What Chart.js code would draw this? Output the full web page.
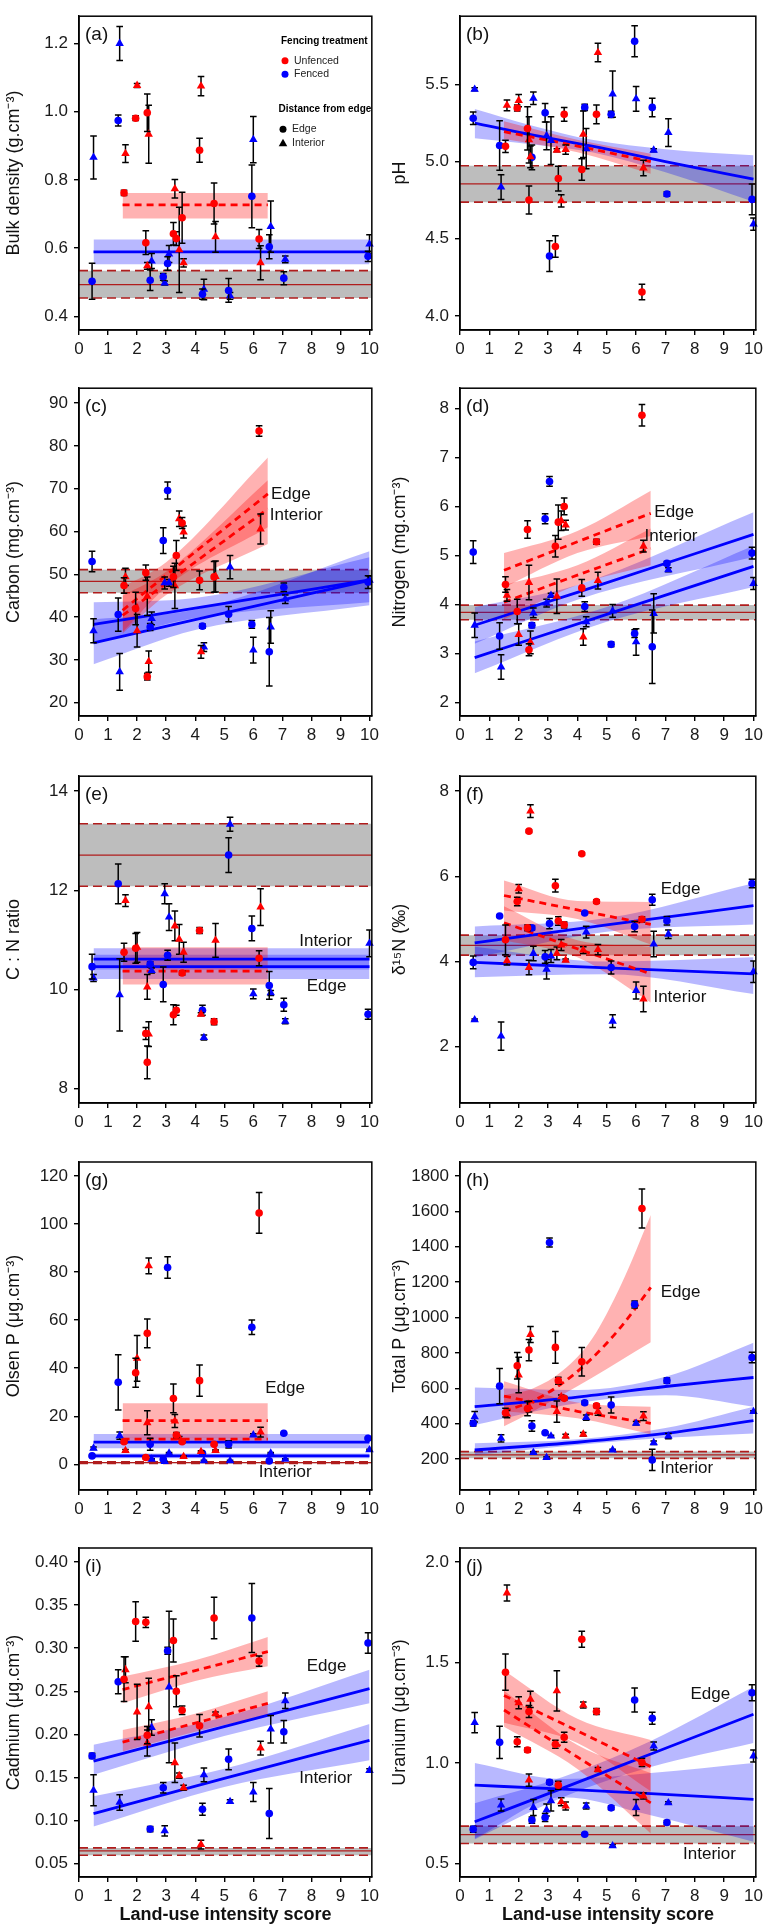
<!DOCTYPE html>
<html>
<head>
<meta charset="utf-8">
<script src="https://cdn.jsdelivr.net/npm/chart.js@4.4.0/dist/chart.umd.min.js"></script>
<style>
  body { margin: 0; background: #fff; width: 767px; height: 1926px; position: relative; overflow: hidden; }
  canvas { position: absolute; }
</style>
</head>
<body>
<script>
// x positions of the sites (land-use intensity score)
const xFenEdge = [0.45, 1.35, 2.45, 2.9, 3.05, 4.25, 5.15, 5.95, 6.55, 7.05, 9.95];
const xFenInt  = [0.5, 1.4, 2.5, 2.95, 3.1, 4.3, 5.2, 6.0, 6.6, 7.1, 10.0];
const xUnfEdge = [1.55, 1.95, 2.3, 2.35, 3.25, 3.35, 3.55, 4.15, 4.65, 6.2];
const xUnfInt  = [1.6, 2.0, 2.35, 2.4, 3.3, 3.45, 3.6, 4.2, 4.7, 6.25];
const xTicks = [0, 1, 2, 3, 4, 5, 6, 7, 8, 9, 10];
const xMax = 10.08;

// values as [mean, error]
// (a) bulk density
const bulkUnfEdge = [[0.762,0.008],[0.981,0.007],[0.616,0.035],[0.997,0.055],[0.642,0.033],[0.628,0.02],[0.689,0.075],[0.887,0.035],[0.731,0.06],[0.627,0.028]];
const bulkUnfInt  = [[0.877,0.026],[1.077,0.006],[0.548,0.01],[0.934,0.085],[0.774,0.027],[0.595,0.125],[0.557,0.012],[1.075,0.028],[0.633,0.045],[0.557,0.05]];
const bulkFenEdge = [[0.503,0.053],[0.974,0.016],[0.506,0.03],[0.516,0.01],[0.555,0.02],[0.465,0.015],[0.476,0.035],[0.752,0.092],[0.604,0.035],[0.512,0.019],[0.576,0.015]];
const bulkFenInt  = [[0.866,0.063],[1.2,0.05],[0.562,0.022],[0.498,0.006],[0.583,0.025],[0.479,0.03],[0.46,0.01],[0.918,0.068],[0.663,0.075],[0.567,0.01],[0.612,0.027]];
const bulkRef = [0.454, 0.493, 0.534];
const bulkUnfFit = [[1.5,0.727,0.687,0.762],[6.5,0.727,0.687,0.762]];
const bulkFenFit = [[0.5,0.589,0.553,0.625],[10,0.589,0.553,0.625]];
const bulkTicks = [0.4, 0.6, 0.8, 1.0, 1.2];

// (b) pH
const phUnfEdge = [[5.098,0.04],[5.346,0.02],[5.214,0.14],[4.751,0.09],[4.45,0.07],[4.89,0.08],[5.305,0.045],[4.948,0.07],[5.305,0.06],[4.156,0.05]];
const phUnfInt  = [[5.363,0.035],[5.394,0.04],[5.14,0.15],[5.03,0.07],[5.073,0.01],[4.745,0.04],[5.077,0.03],[5.176,0.15],[5.705,0.06],[4.958,0.05]];
const phFenEdge = [[5.28,0.04],[5.104,0.16],[5.027,0.08],[5.315,0.06],[4.388,0.1],[5.35,0.02],[5.305,0.02],[5.778,0.1],[5.35,0.06],[4.79,0.015],[4.755,0.1]];
const phFenInt  = [[5.467,0.01],[4.834,0.08],[5.409,0.04],[5.166,0.09],[5.135,0.155],[5.083,0.13],[5.436,0.15],[5.405,0.08],[5.073,0.01],[5.187,0.09],[4.595,0.04]];
const phRef = [4.737, 4.855, 4.973];
const phUnfFit = [[1.5,5.193,5.145,5.26],[4,5.10,5.06,5.14],[6.5,5.0,4.92,5.05]];
const phFenFit = [[0.5,5.249,5.15,5.34],[2.5,5.17,5.11,5.23],[4.5,5.10,5.06,5.14],[7,5.0,4.93,5.08],[10,4.886,4.74,5.04]];
const phTicks = [4.0, 4.5, 5.0, 5.5];

// (c) carbon
const carbUnfEdge = [[47.4,1.8],[42.0,3.8],[50.4,1.8],[26.1,0.8],[49.4,2.5],[54.4,3.5],[62.0,1.3],[48.6,2.2],[49.4,3.6],[83.5,1.2]];
const carbUnfInt  = [[49.4,2],[36.8,3.8],[44.9,4.5],[29.6,2.5],[47.3,5.3],[63.0,1.8],[59.9,1.4],[31.9,1.5],[49.5,3.6],[60.6,3.5]];
const carbFenEdge = [[53.0,2.4],[40.6,3.9],[37.7,0.8],[57.9,3],[69.6,2],[37.9,0.5],[40.7,1.8],[38.3,0.9],[31.9,8],[47.0,1],[48.2,1.5]];
const carbFenInt  = [[36.8,2.8],[27.2,4.3],[39.7,1.5],[48.0,1.4],[48.0,0.8],[33.0,1],[51.7,2.7],[32.3,3],[37.7,3.8],[44.2,1],[48.6,1]];
const carbRef = [45.7, 48.35, 51.1];
const carbUnfEdgeFit = [[1.5,41.6,36.5,47],[3,49.8,47,52.8],[6.5,68.8,61,77.3]];
const carbUnfIntFit  = [[1.5,40.4,36.2,45],[3,47.9,45.2,50.6],[6.5,65.3,57.1,72]];
const carbFenEdgeFit = [[0.5,38.3,33.8,43.5],[4,42.1,39.8,44.5],[10,48.7,43.5,54.0]];
const carbFenIntFit  = [[0.5,34.0,29.0,39.5],[4,39.4,37.0,41.8],[10,48.6,42.8,55.4]];
const carbTicks = [20, 30, 40, 50, 60, 70, 80, 90];

// (d) nitrogen
const nitUnfEdge = [[4.41,0.16],[3.86,0.25],[5.53,0.18],[3.08,0.12],[5.19,0.22],[5.68,0.35],[6.0,0.17],[4.34,0.17],[5.28,0.05],[7.86,0.22]];
const nitUnfInt  = [[4.19,0.12],[3.39,0.22],[4.45,0.35],[3.23,0.23],[4.17,0.35],[5.71,0.2],[5.62,0.1],[3.34,0.17],[4.49,0.17],[5.19,0.12]];
const nitFenEdge = [[5.07,0.23],[3.36,0.27],[3.58,0.05],[5.75,0.1],[6.51,0.1],[3.96,0.1],[3.19,0.05],[3.41,0.08],[3.14,0.75],[4.84,0.04],[5.05,0.12]];
const nitFenInt  = [[3.58,0.25],[2.73,0.25],[3.83,0.1],[4.03,0.08],[4.19,0.04],[3.65,0.1],[3.87,0.13],[3.24,0.27],[3.82,0.4],[4.71,0.04],[4.43,0.12]];
const nitRef = [3.69, 3.84, 3.99];
const nitUnfEdgeFit = [[1.5,4.70,4.35,5.05],[4,5.28,5.05,5.5],[6.5,5.86,5.4,6.32]];
const nitUnfIntFit  = [[1.5,4.05,3.7,4.4],[4,4.6,4.4,4.8],[6.5,5.14,4.8,5.55]];
const nitFenEdgeFit = [[0.5,3.58,3.2,3.95],[4,4.25,4.1,4.4],[10,5.43,4.97,5.88]];
const nitFenIntFit  = [[0.5,2.92,2.6,3.25],[5,3.8,3.65,3.95],[10,4.78,4.36,5.2]];
const nitTicks = [2, 3, 4, 5, 6, 7, 8];

// (e) C:N ratio
const cnUnfEdge = [[10.75,0.18],[10.83,0.3],[9.11,0.12],[8.53,0.33],[9.49,0.2],[9.58,0.1],[10.33,0.04],[11.19,0.06],[9.35,0.06],[10.63,0.15]];
const cnUnfInt  = [[11.79,0.12],[10.85,0.3],[10.05,0.25],[9.1,0.25],[11.28,0.3],[11.01,0.3],[10.75,0.2],[9.5,0.03],[10.99,0.34],[11.66,0.37]];
const cnFenEdge = [[10.46,0.25],[12.13,0.4],[10.51,0.05],[10.1,0.35],[10.69,0.1],[9.58,0.1],[12.71,0.35],[11.23,0.25],[10.08,0.28],[9.69,0.13],[9.5,0.1]];
const cnFenInt  = [[10.23,0.07],[9.89,0.73],[10.38,0.05],[11.93,0.2],[11.46,0.27],[9.03,0.05],[13.33,0.14],[9.91,0.1],[9.93,0.05],[9.36,0.05],[10.93,0.27]];
const cnRef = [12.08, 12.71, 13.34];
const cnUnfFit = [[1.5,10.37,10.1,10.85],[6.5,10.37,10.1,10.85]];
const cnFenEdgeFit = [[0.5,10.61,10.4,10.83],[10,10.61,10.4,10.83]];
const cnFenIntFit  = [[0.5,10.46,10.21,10.7],[10,10.46,10.21,10.7]];
const cnTicks = [8, 10, 12, 14];

// (f) delta 15N
const d15UnfEdge = [[4.51,0.35],[5.41,0.1],[4.79,0.07],[7.06,0.03],[5.78,0.15],[4.95,0.1],[4.86,0.07],[6.53,0.03],[5.41,0.04],[4.99,0.06]];
const d15UnfInt  = [[4.02,0.1],[5.71,0.1],[3.86,0.17],[7.53,0.15],[4.19,0.15],[4.39,0.13],[4.03,0.03],[4.27,0.08],[4.28,0.12],[3.12,0.3]];
const d15FenEdge = [[3.98,0.15],[5.07,0.02],[4.79,0.05],[4.11,0.15],[4.89,0.12],[5.14,0.02],[3.86,0.15],[4.82,0.12],[5.45,0.13],[4.96,0.1],[5.83,0.1]];
const d15FenInt  = [[2.63,0.02],[2.25,0.33],[4.19,0.17],[3.82,0.23],[4.13,0.15],[4.69,0.14],[2.6,0.15],[3.32,0.2],[4.41,0.3],[4.64,0.1],[3.76,0.25]];
const d15Ref = [4.15, 4.38, 4.62];
const d15UnfEdgeFit = [[1.5,5.55,5.2,5.9],[4,5.21,5.0,5.42],[6.5,4.87,4.4,5.4]];
const d15UnfIntFit  = [[1.5,4.91,4.5,5.3],[4,4.3,4.1,4.5],[6.5,3.71,3.04,4.35]];
const d15FenEdgeFit = [[0.5,4.44,4.09,4.82],[5,4.86,4.7,5.02],[10,5.31,4.87,5.84]];
const d15FenIntFit  = [[0.5,3.98,3.63,4.35],[5,3.85,3.7,4.0],[10,3.71,3.24,4.1]];
const d15Ticks = [2, 4, 6, 8];

// (g) Olsen P
const olsUnfEdge = [[9.4,0.5],[38.1,6],[2.8,0.5],[54.5,6],[27.4,6],[12.2,1],[9.4,0.5],[34.8,6.5],[8.3,0.5],[104.6,8.5]];
const olsUnfInt  = [[5.7,0.5],[44.1,9.5],[17.3,5],[82.6,3.3],[18.0,2.7],[11.1,0.5],[3.2,0.3],[5.3,0.3],[5.7,0.3],[13.4,2]];
const olsFenEdge = [[3.5,0.3],[34.1,11.5],[8.3,2.5],[2.1,0.3],[81.9,4.5],[4.6,0.3],[8.3,1.5],[57.0,3],[1.4,0.2],[12.9,0.3],[10.8,0.5]];
const olsFenInt  = [[6.7,0.5],[11.9,1.5],[2.1,0.2],[1.1,0.2],[4.6,0.3],[1.5,0.2],[1.5,0.2],[12.2,0.5],[4.6,0.3],[2.1,0.2],[6.0,0.3]];
const olsRef = [0.4, 0.7, 1.0];
const olsUnfEdgeFit = [[1.5,18.2,11,25.4],[6.5,18.2,11,25.4]];
const olsUnfIntFit  = [[1.5,10.5,9.8,11.2],[6.5,10.5,9.8,11.2]];
const olsFenEdgeFit = [[0.5,9.2,6.7,12.6],[10,9.2,6.7,12.6]];
const olsFenIntFit  = [[0.5,3.5,2.5,4.5],[10,3.5,2.5,4.5]];
const olsTicks = [0, 20, 40, 60, 80, 100, 120];

// (h) total P
const tpUnfEdge = [[462,25],[727,75],[485,40],[816,60],[831,90],[643,20],[543,10],[750,80],[501,10],[1616,110]];
const tpUnfInt  = [[454,20],[675,100],[496,30],[904,45],[468,60],[552,10],[330,10],[340,10],[468,20],[443,25]];
const tpFenEdge = [[402,15],[612,100],[387,30],[349,5],[1424,25],[518,10],[505,45],[1074,20],[195,60],[643,15],[774,30]];
const tpFenInt  = [[439,30],[317,20],[236,5],[208,5],[330,5],[434,15],[251,5],[402,10],[292,10],[330,15],[468,5]];
const tpRef = [204, 223, 242];
const tpUnfEdgeFit = [[1.5,470,385,560],[2.5,530,470,600],[3.5,630,565,700],[4.5,770,660,880],[5.5,950,760,1190],[6.5,1170,860,1580]];
const tpUnfIntFit  = [[1.5,556,470,640],[4,470,430,520],[6.5,402,340,495]];
const tpFenEdgeFit = [[0.5,496,392,604],[4,550,515,590],[7,610,560,665],[10,661,496,857]];
const tpFenIntFit  = [[0.5,251,223,289],[4,295,280,312],[7,345,320,375],[10,417,345,496]];
const tpTicks = [200, 400, 600, 800, 1000, 1200, 1400, 1600, 1800];

// (i) cadmium
const cdUnfEdge = [[0.264,0.026],[0.331,0.023],[0.33,0.006],[0.199,0.01],[0.309,0.025],[0.25,0.018],[0.228,0.005],[0.21,0.013],[0.335,0.024],[0.285,0.006]];
const cdUnfInt  = [[0.275,0.015],[0.226,0.032],[0.19,0.015],[0.232,0.033],[0.167,0.023],[0.152,0.003],[0.138,0.003],[0.072,0.005],[0.224,0.002],[0.184,0.008]];
const cdFenEdge = [[0.175,0.003],[0.261,0.014],[0.09,0.003],[0.138,0.006],[0.297,0.004],[0.113,0.007],[0.171,0.012],[0.335,0.04],[0.108,0.029],[0.203,0.013],[0.306,0.012]];
const cdFenInt  = [[0.135,0.018],[0.121,0.009],[0.208,0.009],[0.088,0.006],[0.255,0.088],[0.153,0.008],[0.122,0.002],[0.133,0.011],[0.206,0.016],[0.239,0.009],[0.158,0.002]];
const cdRef = [0.0597, 0.0647, 0.0682];
const cdUnfEdgeFit = [[1.5,0.252,0.236,0.267],[4,0.274,0.262,0.286],[6.5,0.296,0.279,0.313]];
const cdUnfIntFit  = [[1.5,0.191,0.18,0.205],[4,0.213,0.203,0.224],[6.5,0.236,0.222,0.25]];
const cdFenEdgeFit = [[0.5,0.169,0.153,0.188],[5,0.209,0.198,0.22],[10,0.253,0.236,0.275]];
const cdFenIntFit  = [[0.5,0.108,0.093,0.128],[5,0.149,0.139,0.16],[10,0.193,0.17,0.212]];
const cdTicks = [0.05, 0.10, 0.15, 0.20, 0.25, 0.30, 0.35, 0.40];

// (j) uranium
const urUnfEdge = [[1.452,0.09],[1.106,0.025],[1.065,0.01],[1.256,0.03],[1.093,0.02],[0.89,0.02],[1.128,0.025],[1.616,0.04],[1.256,0.015],[1.003,0.02]];
const urUnfInt  = [[1.846,0.04],[1.30,0.03],[0.915,0.03],[1.317,0.04],[1.359,0.1],[0.807,0.02],[0.786,0.02],[1.289,0.015],[0.968,0.01],[0.836,0.015]];
const urFenEdge = [[0.671,0.015],[1.103,0.08],[0.716,0.015],[0.729,0.02],[0.904,0.01],[0.646,0.005],[0.777,0.01],[1.314,0.06],[1.223,0.03],[0.704,0.01],[1.35,0.04]];
const urFenInt  = [[1.201,0.05],[0.791,0.03],[0.779,0.04],[0.766,0.03],[0.812,0.05],[0.786,0.015],[0.588,0.005],[0.779,0.04],[1.085,0.02],[0.802,0.005],[1.035,0.03]];
const urRef = [0.6, 0.644, 0.686];
const urUnfEdgeFit = [[1.5,1.336,1.2,1.46],[4,1.16,1.1,1.22],[6.5,0.982,0.86,1.115]];
const urUnfIntFit  = [[1.5,1.264,1.18,1.36],[4,1.03,0.97,1.09],[6.5,0.802,0.65,0.95]];
const urFenEdgeFit = [[0.5,0.708,0.62,0.80],[3.5,0.875,0.83,0.93],[6.5,1.045,0.98,1.11],[10,1.243,1.1,1.38]];
const urFenIntFit  = [[0.5,0.89,0.625,1.0],[3.5,0.87,0.83,0.92],[6.5,0.848,0.74,0.95],[10,0.819,0.608,1.0]];
const urTicks = [0.5, 1.0, 1.5, 2.0];

const RED = '#ff0000', BLUE = '#0000ff', REF = '#b01c1c';
const redFill = 'rgba(255,0,0,0.3)', blueFill = 'rgba(0,0,255,0.28)';
const FONT = "'Liberation Sans', Arial, sans-serif";

const panels = [
  { tag: '(a)', title: 'Bulk density (g.cm⁻³)', yMin: 0.36, yMax: 1.28, ticks: bulkTicks, dec: 1,
    pts: [bulkUnfEdge, bulkUnfInt, bulkFenEdge, bulkFenInt], ref: bulkRef,
    unfFits: [bulkUnfFit], fenFits: [bulkFenFit], notes: [], legend: true },
  { tag: '(b)', title: 'pH', yMin: 3.91, yMax: 5.94, ticks: phTicks, dec: 1,
    pts: [phUnfEdge, phUnfInt, phFenEdge, phFenInt], ref: phRef,
    unfFits: [phUnfFit], fenFits: [phFenFit], notes: [] },
  { tag: '(c)', title: 'Carbon (mg.cm⁻³)', yMin: 16.9, yMax: 93.5, ticks: carbTicks, dec: 0,
    pts: [carbUnfEdge, carbUnfInt, carbFenEdge, carbFenInt], ref: carbRef,
    unfFits: [carbUnfEdgeFit, carbUnfIntFit], fenFits: [carbFenEdgeFit, carbFenIntFit],
    notes: [['Edge', 6.61, 68.8], ['Interior', 6.57, 63.7]] },
  { tag: '(d)', title: 'Nitrogen (mg.cm⁻³)', yMin: 1.73, yMax: 8.41, ticks: nitTicks, dec: 0,
    pts: [nitUnfEdge, nitUnfInt, nitFenEdge, nitFenInt], ref: nitRef,
    unfFits: [nitUnfEdgeFit, nitUnfIntFit], fenFits: [nitFenEdgeFit, nitFenIntFit],
    notes: [['Edge', 6.62, 5.89], ['Interior', 6.29, 5.39]] },
  { tag: '(e)', title: 'C : N ratio', yMin: 7.71, yMax: 14.3, ticks: cnTicks, dec: 0,
    pts: [cnUnfEdge, cnUnfInt, cnFenEdge, cnFenInt], ref: cnRef,
    unfFits: [cnUnfFit], fenFits: [cnFenEdgeFit, cnFenIntFit],
    notes: [['Interior', 7.58, 10.98], ['Edge', 7.84, 10.07]] },
  { tag: '(f)', title: 'δ¹⁵N (‰)', yMin: 0.68, yMax: 8.35, ticks: d15Ticks, dec: 0,
    pts: [d15UnfEdge, d15UnfInt, d15FenEdge, d15FenInt], ref: d15Ref,
    unfFits: [d15UnfEdgeFit, d15UnfIntFit], fenFits: [d15FenEdgeFit, d15FenIntFit],
    notes: [['Edge', 6.84, 5.69], ['Interior', 6.59, 3.17]] },
  { tag: '(g)', title: 'Olsen P (μg.cm⁻³)', yMin: -10.7, yMax: 125.8, ticks: olsTicks, dec: 0,
    pts: [olsUnfEdge, olsUnfInt, olsFenEdge, olsFenInt], ref: olsRef,
    unfFits: [olsUnfEdgeFit, olsUnfIntFit], fenFits: [olsFenEdgeFit, olsFenIntFit],
    notes: [['Edge', 6.41, 31.6], ['Interior', 6.19, -3.3]] },
  { tag: '(h)', title: 'Total P (μg.cm⁻³)', yMin: 25, yMax: 1879, ticks: tpTicks, dec: 0,
    pts: [tpUnfEdge, tpUnfInt, tpFenEdge, tpFenInt], ref: tpRef,
    unfFits: [tpUnfEdgeFit, tpUnfIntFit], fenFits: [tpFenEdgeFit, tpFenIntFit],
    notes: [['Edge', 6.84, 1145], ['Interior', 6.82, 148]] },
  { tag: '(i)', title: 'Cadmium (μg.cm⁻³)', yMin: 0.0344, yMax: 0.4163, ticks: cdTicks, dec: 2,
    pts: [cdUnfEdge, cdUnfInt, cdFenEdge, cdFenInt], ref: cdRef,
    unfFits: [cdUnfEdgeFit, cdUnfIntFit], fenFits: [cdFenEdgeFit, cdFenIntFit],
    notes: [['Edge', 7.84, 0.2787], ['Interior', 7.58, 0.1488]] },
  { tag: '(j)', title: 'Uranium (μg.cm⁻³)', yMin: 0.433, yMax: 2.07, ticks: urTicks, dec: 1,
    pts: [urUnfEdge, urUnfInt, urFenEdge, urFenInt], ref: urRef,
    unfFits: [urUnfEdgeFit, urUnfIntFit], fenFits: [urFenEdgeFit, urFenIntFit],
    notes: [['Edge', 7.85, 1.344], ['Interior', 7.6, 0.547]] }
];

// page layout of the 5 x 2 grid
const cols = [
  { left: 0, width: 383, yW: 79, padR: 5, titlePad: 3 },
  { left: 383, width: 384, yW: 77, padR: 7, titlePad: 6 }
];
const rows = [
  { top: 0, h: 372, padT: 4, xH: 42 },
  { top: 372, h: 388, padT: 15, xH: 44 },
  { top: 760, h: 380, padT: 14, xH: 37 },
  { top: 1140, h: 390, padT: 22, xH: 40 },
  { top: 1530, h: 396, padT: 18, xH: 49 }
];

Chart.defaults.font.family = FONT;
Chart.defaults.color = '#1a1a1a';

const errorBars = {
  id: 'errorBars',
  beforeDatasetDraw(chart, args) {
    const ds = chart.data.datasets[args.index];
    if (!ds.err) return;
    const { ctx, chartArea, scales: { x, y } } = chart;
    ctx.save();
    ctx.beginPath();
    ctx.rect(chartArea.left, chartArea.top, chartArea.width, chartArea.height);
    ctx.clip();
    ctx.strokeStyle = '#000';
    ctx.lineWidth = 1.5;
    ds.data.forEach((p, i) => {
      const px = x.getPixelForValue(p.x);
      const y1 = y.getPixelForValue(p.y - ds.err[i]);
      const y2 = y.getPixelForValue(p.y + ds.err[i]);
      ctx.beginPath();
      ctx.moveTo(px, y1); ctx.lineTo(px, y2);
      ctx.moveTo(px - 3.3, y1); ctx.lineTo(px + 3.3, y1);
      ctx.moveTo(px - 3.3, y2); ctx.lineTo(px + 3.3, y2);
      ctx.stroke();
    });
    ctx.restore();
  }
};

function drawLegend(ctx, area) {
  const L = area.left, T = area.top;
  ctx.fillStyle = '#000';
  ctx.textAlign = 'left';
  ctx.textBaseline = 'middle';
  ctx.font = 'bold 10px ' + FONT;
  ctx.fillText('Fencing treatment', L + 202, T + 25);
  ctx.fillText('Distance from edge', L + 199.5, T + 93.5);
  ctx.font = '10.5px ' + FONT;
  const dot = (cx, cy, color) => {
    ctx.fillStyle = color;
    ctx.beginPath(); ctx.arc(cx, cy, 3.5, 0, Math.PI * 2); ctx.fill();
  };
  dot(L + 206, T + 44.5, RED);
  dot(L + 206, T + 58, BLUE);
  dot(L + 204, T + 113, '#000');
  ctx.fillStyle = '#000';
  ctx.beginPath();
  ctx.moveTo(L + 204, T + 122.5);
  ctx.lineTo(L + 208.3, T + 130);
  ctx.lineTo(L + 199.7, T + 130);
  ctx.closePath(); ctx.fill();
  ctx.fillStyle = '#222';
  ctx.fillText('Unfenced', L + 215, T + 44.5);
  ctx.fillText('Fenced', L + 215, T + 58);
  ctx.fillText('Edge', L + 213, T + 113);
  ctx.fillText('Interior', L + 213, T + 126.5);
}

const decorations = {
  id: 'decorations',
  afterDraw(chart) {
    const { ctx, chartArea, scales: { x, y } } = chart;
    const p = chart.options.plugins.decorations.panel;
    ctx.save();
    ctx.strokeStyle = '#000';
    ctx.lineWidth = 1.5;
    ctx.strokeRect(chartArea.left, chartArea.top, chartArea.width, chartArea.height);
    ctx.fillStyle = '#111';
    ctx.textAlign = 'left';
    ctx.textBaseline = 'alphabetic';
    ctx.font = '19px ' + FONT;
    ctx.fillText(p.tag, chartArea.left + 6, chartArea.top + 24);
    ctx.font = '17px ' + FONT;
    ctx.textBaseline = 'middle';
    p.notes.forEach(n => ctx.fillText(n[0], x.getPixelForValue(n[1]), y.getPixelForValue(n[2])));
    if (p.legend) drawLegend(ctx, chartArea);
    ctx.restore();
  }
};

function buildDatasets(p) {
  const sets = [];
  const band = (fit, color, order) => {
    sets.push({ type: 'line', data: fit.map(r => ({ x: r[0], y: r[2] })), borderColor: 'rgba(0,0,0,0)', borderWidth: 0,
      pointRadius: 0, fill: false, cubicInterpolationMode: 'monotone', order, clip: 0 });
    sets.push({ type: 'line', data: fit.map(r => ({ x: r[0], y: r[3] })), borderColor: 'rgba(0,0,0,0)', borderWidth: 0,
      pointRadius: 0, fill: '-1', backgroundColor: color, cubicInterpolationMode: 'monotone', order, clip: 0 });
  };
  const line = (fit, col, color, width, dash, order) => {
    sets.push({ type: 'line', data: fit.map(r => ({ x: r[0], y: r[col] })), borderColor: color, borderWidth: width,
      borderDash: dash, pointRadius: 0, fill: false, cubicInterpolationMode: 'monotone', order, clip: 0 });
  };

  // reference (grey) range across the full axis
  const refRows = [[0, p.ref[1], p.ref[0], p.ref[2]], [xMax, p.ref[1], p.ref[0], p.ref[2]]];
  band(refRows, '#bdbdbd', 100);
  line(refRows, 2, REF, 1.6, [9, 5], 95);
  line(refRows, 3, REF, 1.6, [9, 5], 95);
  line(refRows, 1, REF, 1.3, [], 95);

  p.unfFits.forEach(f => band(f, redFill, 80));
  p.fenFits.forEach(f => band(f, blueFill, 80));
  p.unfFits.forEach(f => line(f, 1, RED, 2.8, [7, 5], 60));
  p.fenFits.forEach(f => line(f, 1, BLUE, 2.8, [], 60));

  const groups = [
    [p.pts[2], xFenEdge, BLUE, 'circle', 3.8, 12],
    [p.pts[3], xFenInt, BLUE, 'triangle', 4.9, 12],
    [p.pts[0], xUnfEdge, RED, 'circle', 3.8, 11],
    [p.pts[1], xUnfInt, RED, 'triangle', 4.9, 11]
  ];
  groups.forEach(([vals, xs, color, style, r, order]) => {
    sets.push({
      type: 'scatter',
      data: xs.map((xv, i) => ({ x: xv, y: vals[i][0] })),
      err: vals.map(v => v[1]),
      pointStyle: style, pointRadius: r, pointHoverRadius: r,
      pointBackgroundColor: color, pointBorderColor: color, pointBorderWidth: 0,
      order, clip: false
    });
  });
  return sets;
}

panels.forEach((p, i) => {
  const col = cols[i % 2], row = rows[Math.floor(i / 2)];
  const bottom = Math.floor(i / 2) === rows.length - 1;
  const canvas = document.createElement('canvas');
  canvas.width = col.width;
  canvas.height = row.h;
  canvas.style.left = col.left + 'px';
  canvas.style.top = row.top + 'px';
  document.body.appendChild(canvas);

  new Chart(canvas, {
    type: 'scatter',
    data: { datasets: buildDatasets(p) },
    plugins: [errorBars, decorations],
    options: {
      responsive: false,
      animation: false,
      devicePixelRatio: 1,
      events: [],
      layout: { padding: { left: 0, right: col.padR, top: row.padT, bottom: 0 }, autoPadding: false },
      plugins: {
        legend: { display: false },
        tooltip: { enabled: false },
        decorations: { panel: p }
      },
      scales: {
        x: {
          type: 'linear', min: 0, max: xMax,
          afterBuildTicks: s => { s.ticks = xTicks.map(v => ({ value: v })); },
          afterFit: s => { s.height = row.xH; },
          ticks: { autoSkip: false, maxRotation: 0, padding: 4, font: { size: 17 }, color: '#1a1a1a' },
          grid: { drawOnChartArea: false, drawTicks: true, tickLength: 5, color: '#000', lineWidth: 1.4 },
          border: { display: true, color: '#000', width: 1.5 },
          title: { display: bottom, text: 'Land-use intensity score', color: '#111',
            font: { size: 18, weight: 'bold' }, padding: { top: 0, bottom: 0 } }
        },
        y: {
          type: 'linear', min: p.yMin, max: p.yMax,
          afterBuildTicks: s => { s.ticks = p.ticks.map(v => ({ value: v })); },
          afterFit: s => { s.width = col.yW; },
          ticks: { autoSkip: false, padding: 6, font: { size: 17 }, color: '#1a1a1a',
            callback: v => Number(v).toFixed(p.dec) },
          grid: { drawOnChartArea: false, drawTicks: true, tickLength: 5, color: '#000', lineWidth: 1.4 },
          border: { display: true, color: '#000', width: 1.5 },
          title: { display: true, text: p.title, color: '#111', font: { size: 18 },
            padding: { top: col.titlePad, bottom: 0 } }
        }
      }
    }
  });
});
</script>
</body>
</html>
